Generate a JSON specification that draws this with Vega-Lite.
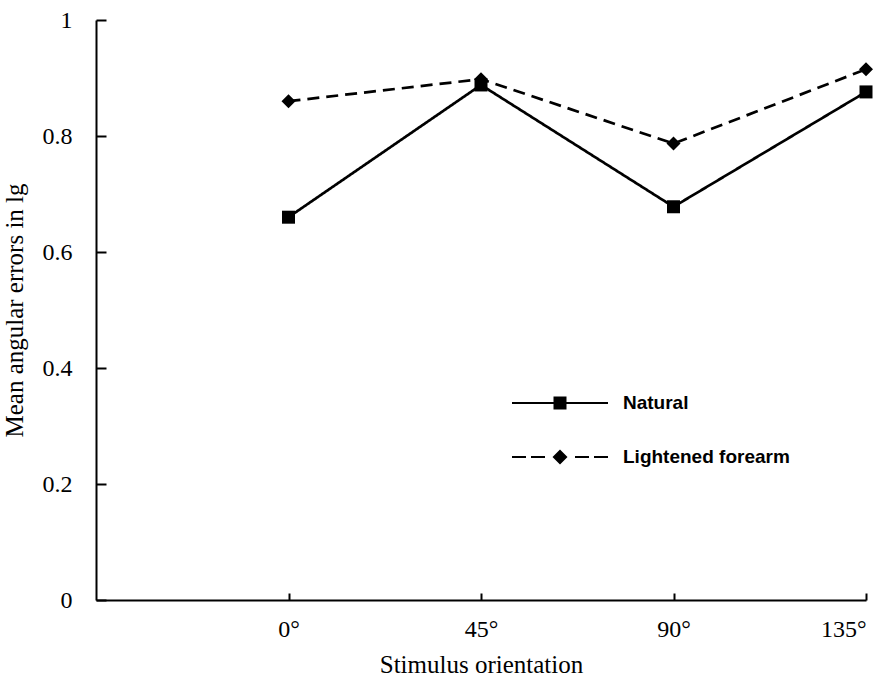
{
  "$schema": "https://vega.github.io/schema/vega-lite/v6.json",
  "width": 770,
  "height": 580,
  "autosize": {"type": "none"},
  "padding": {"left": 96, "top": 20, "right": 22, "bottom": 84},
  "background": "white",
  "config": {
    "view": {"stroke": null},
    "axis": {
      "domainColor": "black",
      "domainWidth": 2,
      "tickColor": "black",
      "tickWidth": 2,
      "grid": false,
      "labelFont": "Liberation Serif",
      "labelFontSize": 24,
      "labelColor": "black",
      "titleFont": "Liberation Serif",
      "titleFontSize": 25,
      "titleFontWeight": "normal",
      "titleColor": "black"
    }
  },
  "data": {
    "values": [
      {"orientation": 0, "error": 0.66, "condition": "Natural"},
      {"orientation": 45, "error": 0.888, "condition": "Natural"},
      {"orientation": 90, "error": 0.678, "condition": "Natural"},
      {"orientation": 135, "error": 0.876, "condition": "Natural"},
      {"orientation": 0, "error": 0.86, "condition": "Lightened forearm"},
      {"orientation": 45, "error": 0.898, "condition": "Lightened forearm"},
      {"orientation": 90, "error": 0.787, "condition": "Lightened forearm"},
      {"orientation": 135, "error": 0.915, "condition": "Lightened forearm"}
    ]
  },
  "encoding": {
    "x": {
      "field": "orientation",
      "type": "quantitative",
      "scale": {"domain": [-45, 135], "nice": false, "zero": false},
      "axis": {
        "title": "Stimulus orientation",
        "values": [0, 45, 90, 135],
        "labelExpr": "datum.value + '°'",
        "tickSize": -7,
        "labelPadding": 24,
        "titlePadding": 11
      }
    },
    "y": {
      "field": "error",
      "type": "quantitative",
      "scale": {"domain": [0, 1], "nice": false},
      "axis": {
        "title": "Mean angular errors in lg",
        "values": [0, 0.2, 0.4, 0.6, 0.8, 1],
        "format": "~g",
        "tickSize": -10,
        "labelPadding": 34,
        "titlePadding": 15
      }
    }
  },
  "layer": [
    {
      "mark": {"type": "line", "color": "black", "strokeWidth": 2.7},
      "encoding": {
        "strokeDash": {
          "field": "condition",
          "type": "nominal",
          "scale": {"domain": ["Natural", "Lightened forearm"], "range": [[1, 0], [12, 7]]},
          "legend": null
        }
      }
    },
    {
      "mark": {"type": "point", "filled": true, "color": "black", "opacity": 1},
      "encoding": {
        "shape": {
          "field": "condition",
          "type": "nominal",
          "scale": {"domain": ["Natural", "Lightened forearm"], "range": ["square", "diamond"]},
          "legend": null
        },
        "size": {
          "field": "condition",
          "type": "nominal",
          "scale": {"domain": ["Natural", "Lightened forearm"], "range": [169, 196]},
          "legend": null
        }
      }
    },
    {
      "transform": [{"filter": "datum.error > 5"}],
      "mark": {"type": "point", "filled": true, "color": "black", "opacity": 1, "size": 1600},
      "encoding": {
        "shape": {
          "field": "condition",
          "type": "nominal",
          "scale": {
            "domain": ["Natural", "Lightened forearm"],
            "range": [
              "M-2.4,-0.05H2.4V0.05H-2.4ZM-0.325,-0.325H0.325V0.325H-0.325Z",
              "M-2.4,-0.05H-1.7V0.05H-2.4ZM-1.45,-0.05H-0.75V0.05H-1.45ZM0.75,-0.05H1.45V0.05H0.75ZM1.7,-0.05H2.4V0.05H1.7ZM0,-0.375L0.375,0L0,0.375L-0.375,0Z"
            ]
          },
          "legend": {
            "title": null,
            "orient": "none",
            "legendX": 444,
            "legendY": 363,
            "padding": 0,
            "symbolSize": 1600,
            "rowPadding": 24,
            "labelOffset": 43,
            "labelLimit": 400,
            "labelFont": "Liberation Sans",
            "labelFontSize": 19,
            "labelFontWeight": "bold",
            "labelColor": "black",
            "symbolFillColor": "black",
            "symbolStrokeColor": "black",
            "symbolStrokeWidth": 0,
            "symbolOpacity": 1
          }
        }
      }
    }
  ],
  "resolve": {"scale": {"shape": "independent", "size": "independent", "strokeDash": "independent"}}
}
